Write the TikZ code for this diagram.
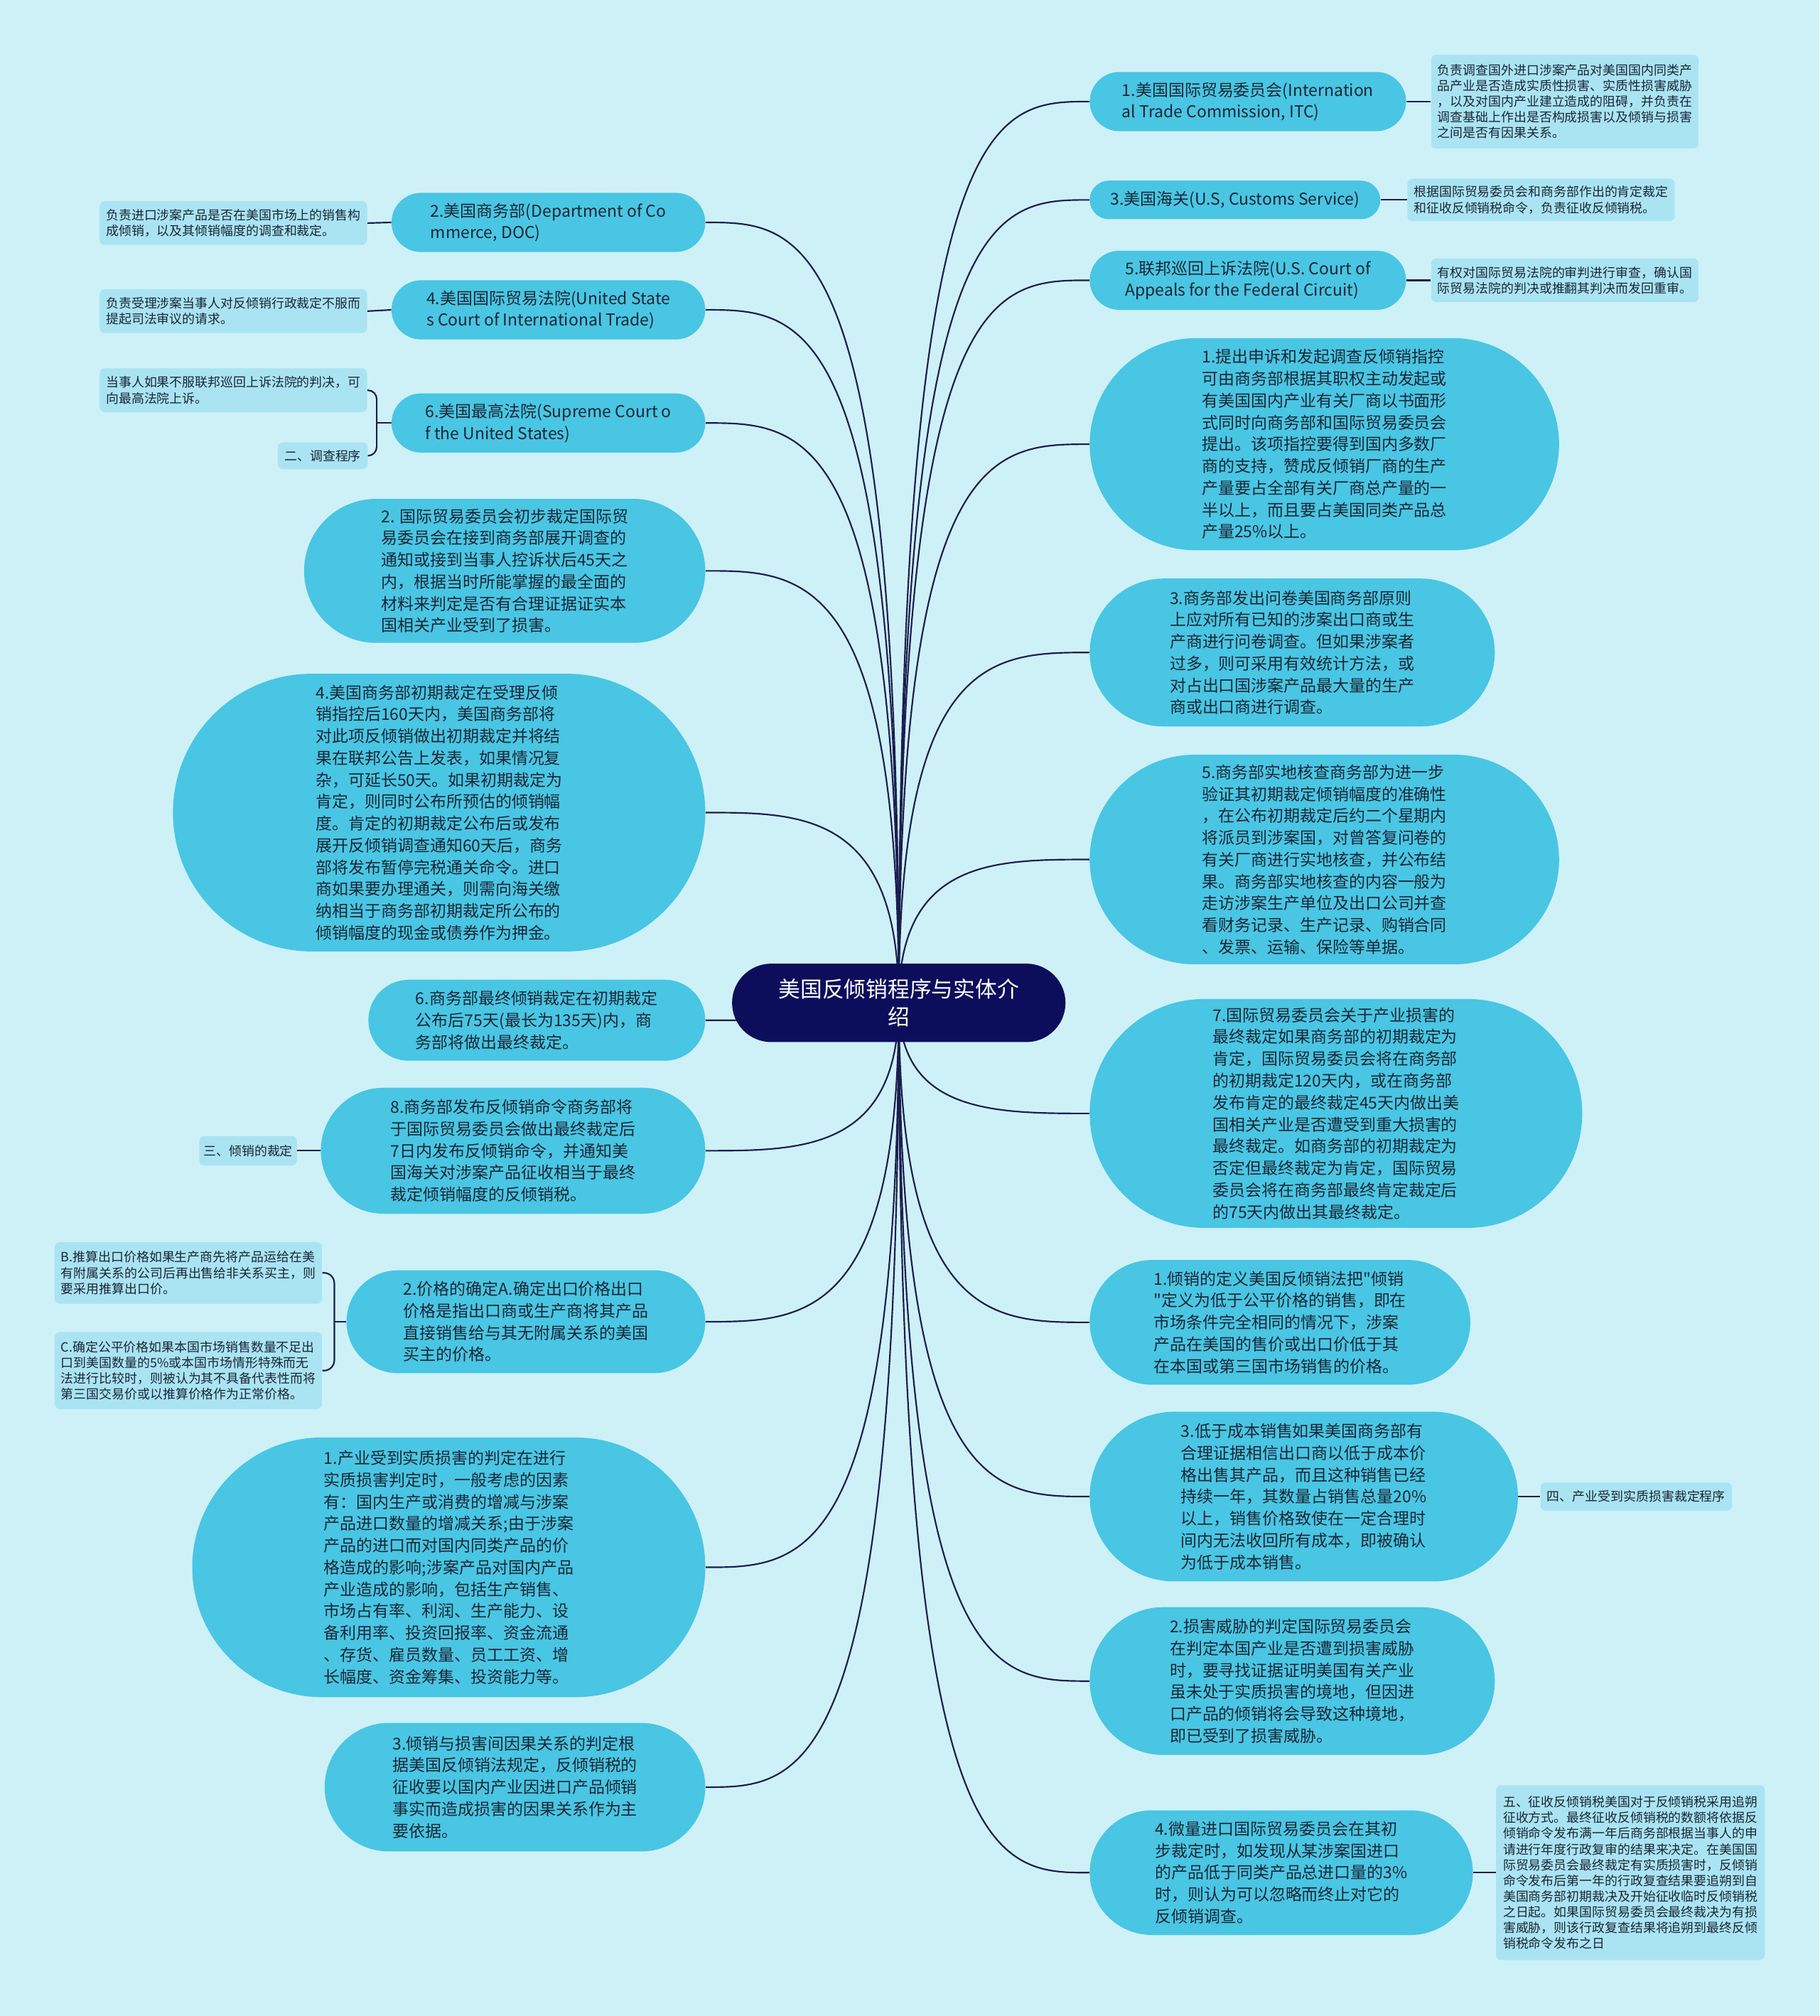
\documentclass[tikz,border=0pt]{standalone}
\usepackage{fontspec}
\newfontfamily\cjk{Noto Sans CJK SC}
\usetikzlibrary{shapes.misc,calc}
\definecolor{bgcyan}{RGB}{206,241,248}
\definecolor{topiccyan}{RGB}{73,198,227}
\definecolor{notecyan}{RGB}{170,228,243}
\definecolor{rootnavy}{RGB}{12,14,92}
\definecolor{linknavy}{RGB}{28,30,78}
\definecolor{inktext}{RGB}{28,38,52}
\pgfdeclarelayer{bg}
\pgfdeclarelayer{links}
\pgfsetlayers{bg,links,main}
\tikzset{
  topicbox/.style={rounded rectangle, fill=topiccyan, text=inktext, inner sep=2pt,
    font=\cjk\fontsize{12.7}{17}\selectfont, align=left},
  notebox/.style={rectangle, rounded corners=4pt, fill=notecyan, text=inktext, inner sep=2pt,
    font=\cjk\fontsize{9.9}{12.2}\selectfont, align=left},
  rootbox/.style={rounded rectangle, fill=rootnavy, text=white,
    font=\cjk\fontsize{17}{22}\selectfont, align=center},
  branchline/.style={draw=linknavy, line width=1.2pt},
}
\begin{document}
\begin{tikzpicture}[x=1pt,y=1pt,yscale=-1,xscale=1]
\useasboundingbox (0,0) rectangle (1415,1568);
\begin{pgfonlayer}{bg}
\fill[bgcyan] (0,0) rectangle (1415,1568);
\end{pgfonlayer}

%Shape: root
\node[rootbox, minimum width=266, minimum height=61] (root) at (699,780) {美国反倾销程序与实体介\\绍};

% right side
\node[topicbox, minimum width=250, minimum height=46] (r1) at (970.5,79) {1.美国国际贸易委员会(Internation\\al Trade Commission, ITC)};
\node[topicbox, minimum width=230, minimum height=30] (r3) at (960.5,155.5) {3.美国海关(U.S, Customs Service)};
\node[topicbox, minimum width=250, minimum height=46] (r5) at (970.5,218) {5.联邦巡回上诉法院(U.S. Court of\\Appeals for the Federal Circuit)};
\node[topicbox, minimum width=369, minimum height=165] (rv1) at (1030,345.5) {1.提出申诉和发起调查反倾销指控\\可由商务部根据其职权主动发起或\\有美国国内产业有关厂商以书面形\\式同时向商务部和国际贸易委员会\\提出。该项指控要得到国内多数厂\\商的支持，赞成反倾销厂商的生产\\产量要占全部有关厂商总产量的一\\半以上，而且要占美国同类产品总\\产量25\%以上。};
\node[topicbox, minimum width=319, minimum height=115] (rv3) at (1005,507.5) {3.商务部发出问卷美国商务部原则\\上应对所有已知的涉案出口商或生\\产商进行问卷调查。但如果涉案者\\过多，则可采用有效统计方法，或\\对占出口国涉案产品最大量的生产\\商或出口商进行调查。};
\node[topicbox, minimum width=369, minimum height=163] (rv5) at (1030,668.5) {5.商务部实地核查商务部为进一步\\验证其初期裁定倾销幅度的准确性\\，在公布初期裁定后约二个星期内\\将派员到涉案国，对曾答复问卷的\\有关厂商进行实地核查，并公布结\\果。商务部实地核查的内容一般为\\走访涉案生产单位及出口公司并查\\看财务记录、生产记录、购销合同\\、发票、运输、保险等单据。};
\node[topicbox, minimum width=387, minimum height=178] (rv7) at (1039,866) {7.国际贸易委员会关于产业损害的\\最终裁定如果商务部的初期裁定为\\肯定，国际贸易委员会将在商务部\\的初期裁定120天内，或在商务部\\发布肯定的最终裁定45天内做出美\\国相关产业是否遭受到重大损害的\\最终裁定。如商务部的初期裁定为\\否定但最终裁定为肯定，国际贸易\\委员会将在商务部最终肯定裁定后\\的75天内做出其最终裁定。};
\node[topicbox, minimum width=300, minimum height=97] (rd1) at (995.5,1028.5) {1.倾销的定义美国反倾销法把"倾销\\"定义为低于公平价格的销售，即在\\市场条件完全相同的情况下，涉案\\产品在美国的售价或出口价低于其\\在本国或第三国市场销售的价格。};
\node[topicbox, minimum width=337, minimum height=132] (rd3) at (1014,1164) {3.低于成本销售如果美国商务部有\\合理证据相信出口商以低于成本价\\格出售其产品，而且这种销售已经\\持续一年，其数量占销售总量20\%\\以上，销售价格致使在一定合理时\\间内无法收回所有成本，即被确认\\为低于成本销售。};
\node[topicbox, minimum width=319, minimum height=115] (ri2) at (1005,1307.5) {2.损害威胁的判定国际贸易委员会\\在判定本国产业是否遭到损害威胁\\时，要寻找证据证明美国有关产业\\虽未处于实质损害的境地，但因进\\口产品的倾销将会导致这种境地，\\即已受到了损害威胁。};
\node[topicbox, minimum width=302, minimum height=97] (ri4) at (996.5,1456.5) {4.微量进口国际贸易委员会在其初\\步裁定时，如发现从某涉案国进口\\的产品低于同类产品总进口量的3\%\\时，则认为可以忽略而终止对它的\\反倾销调查。};

% right notes
\node[notebox, minimum width=208, minimum height=73] (s1) at (1217,79) {负责调查国外进口涉案产品对美国国内同类产\\品产业是否造成实质性损害、实质性损害威胁\\，以及对国内产业建立造成的阻碍，并负责在\\调查基础上作出是否构成损害以及倾销与损害\\之间是否有因果关系。};
\node[notebox, minimum width=208, minimum height=33] (s3) at (1198.5,155.5) {根据国际贸易委员会和商务部作出的肯定裁定\\和征收反倾销税命令，负责征收反倾销税。};
\node[notebox, minimum width=208, minimum height=34] (s5) at (1217,218) {有权对国际贸易法院的审判进行审查，确认国\\际贸易法院的判决或推翻其判决而发回重审。};
\node[notebox, minimum width=149, minimum height=22] (lab4) at (1272.5,1164) {四、产业受到实质损害裁定程序};
\node[notebox, minimum width=209, minimum height=136] (s5b) at (1268,1456.5) {五、征收反倾销税美国对于反倾销税采用追朔\\征收方式。最终征收反倾销税的数额将依据反\\倾销命令发布满一年后商务部根据当事人的申\\请进行年度行政复审的结果来决定。在美国国\\际贸易委员会最终裁定有实质损害时，反倾销\\命令发布后第一年的行政复查结果要追朔到自\\美国商务部初期裁决及开始征收临时反倾销税\\之日起。如果国际贸易委员会最终裁决为有损\\害威胁，则该行政复查结果将追朔到最终反倾\\销税命令发布之日};

% left side
\node[topicbox, minimum width=248, minimum height=46] (l2) at (426.5,173) {2.美国商务部(Department of Co\\mmerce, DOC)};
\node[topicbox, minimum width=248, minimum height=46] (l4) at (426.5,241) {4.美国国际贸易法院(United State\\s Court of International Trade)};
\node[topicbox, minimum width=248, minimum height=46] (l6) at (426.5,329) {6.美国最高法院(Supreme Court o\\f the United States)};
\node[topicbox, minimum width=316, minimum height=112] (lv2) at (392.5,444) {2. 国际贸易委员会初步裁定国际贸\\易委员会在接到商务部展开调查的\\通知或接到当事人控诉状后45天之\\内，根据当时所能掌握的最全面的\\材料来判定是否有合理证据证实本\\国相关产业受到了损害。};
\node[topicbox, minimum width=418, minimum height=216] (lv4) at (341.5,632) {4.美国商务部初期裁定在受理反倾\\销指控后160天内，美国商务部将\\对此项反倾销做出初期裁定并将结\\果在联邦公告上发表，如果情况复\\杂，可延长50天。如果初期裁定为\\肯定，则同时公布所预估的倾销幅\\度。肯定的初期裁定公布后或发布\\展开反倾销调查通知60天后，商务\\部将发布暂停完税通关命令。进口\\商如果要办理通关，则需向海关缴\\纳相当于商务部初期裁定所公布的\\倾销幅度的现金或债券作为押金。};
\node[topicbox, minimum width=266, minimum height=63] (lv6) at (417.5,793.5) {6.商务部最终倾销裁定在初期裁定\\公布后75天(最长为135天)内，商\\务部将做出最终裁定。};
\node[topicbox, minimum width=303, minimum height=98] (lv8) at (399,895) {8.商务部发布反倾销命令商务部将\\于国际贸易委员会做出最终裁定后\\7日内发布反倾销命令，并通知美\\国海关对涉案产品征收相当于最终\\裁定倾销幅度的反倾销税。};
\node[topicbox, minimum width=283, minimum height=80] (ld2) at (409,1028) {2.价格的确定A.确定出口价格出口\\价格是指出口商或生产商将其产品\\直接销售给与其无附属关系的美国\\买主的价格。};
\node[topicbox, minimum width=403, minimum height=202] (li1) at (349,1219) {1.产业受到实质损害的判定在进行\\实质损害判定时，一般考虑的因素\\有：国内生产或消费的增减与涉案\\产品进口数量的增减关系;由于涉案\\产品的进口而对国内同类产品的价\\格造成的影响;涉案产品对国内产品\\产业造成的影响，包括生产销售、\\市场占有率、利润、生产能力、设\\备利用率、投资回报率、资金流通\\、存货、雇员数量、员工工资、增\\长幅度、资金筹集、投资能力等。};
\node[topicbox, minimum width=300, minimum height=100] (li3) at (400.5,1390) {3.倾销与损害间因果关系的判定根\\据美国反倾销法规定，反倾销税的\\征收要以国内产业因进口产品倾销\\事实而造成损害的因果关系作为主\\要依据。};

% left notes
\node[notebox, minimum width=208, minimum height=34] (sl2) at (181.5,173.5) {负责进口涉案产品是否在美国市场上的销售构\\成倾销，以及其倾销幅度的调查和裁定。};
\node[notebox, minimum width=208, minimum height=34] (sl4) at (181.5,242) {负责受理涉案当事人对反倾销行政裁定不服而\\提起司法审议的请求。};
\node[notebox, minimum width=208, minimum height=34] (sl6) at (181.5,303.5) {当事人如果不服联邦巡回上诉法院的判决，可\\向最高法院上诉。};
\node[notebox, minimum width=70, minimum height=21] (lab2) at (251,354.5) {二、调查程序};
\node[notebox, minimum width=76, minimum height=23] (lab3) at (193,895) {三、倾销的裁定};
\node[notebox, minimum width=208, minimum height=48] (slb) at (146.5,990) {B.推算出口价格如果生产商先将产品运给在美\\有附属关系的公司后再出售给非关系买主，则\\要采用推算出口价。};
\node[notebox, minimum width=208, minimum height=60] (slc) at (146.5,1066) {C.确定公平价格如果本国市场销售数量不足出\\口到美国数量的5\%或本国市场情形特殊而无\\法进行比较时，则被认为其不具备代表性而将\\第三国交易价或以推算价格作为正常价格。};

% brace joints
\coordinate (j6) at (293,329);
\coordinate (jd2) at (260,1028);

\begin{pgfonlayer}{links}
\foreach \n in {r1,r3,r5,rv1,rv3,rv5,rv7,rd1,rd3,ri2,ri4}
  \draw[branchline] (root.center) .. controls (root.center |- \n.west) and ($(root.center |- \n.west)!0.5!(\n.west)$) .. (\n.west);
\foreach \n in {l2,l4,l6,lv2,lv4,lv6,lv8,ld2,li1,li3}
  \draw[branchline] (root.center) .. controls (root.center |- \n.east) and ($(root.center |- \n.east)!0.5!(\n.east)$) .. (\n.east);
\draw[branchline] (r1.east) -- (s1.west);
\draw[branchline] (r3.east) -- (s3.west);
\draw[branchline] (r5.east) -- (s5.west);
\draw[branchline] (rd3.east) -- (lab4.west);
\draw[branchline] (ri4.east) -- (s5b.west);
\draw[branchline] (sl2.east) -- (l2.west);
\draw[branchline] (sl4.east) -- (l4.west);
\draw[branchline] (lab3.east) -- (lv8.west);
\draw[branchline, rounded corners=7pt] (sl6.east) -| (j6) |- (lab2.east);
\draw[branchline] (j6) -- (l6.west);
\draw[branchline, rounded corners=8pt] (slb.east) -| (jd2) |- (slc.east);
\draw[branchline] (jd2) -- (ld2.west);
\end{pgfonlayer}

\end{tikzpicture}
\end{document}
